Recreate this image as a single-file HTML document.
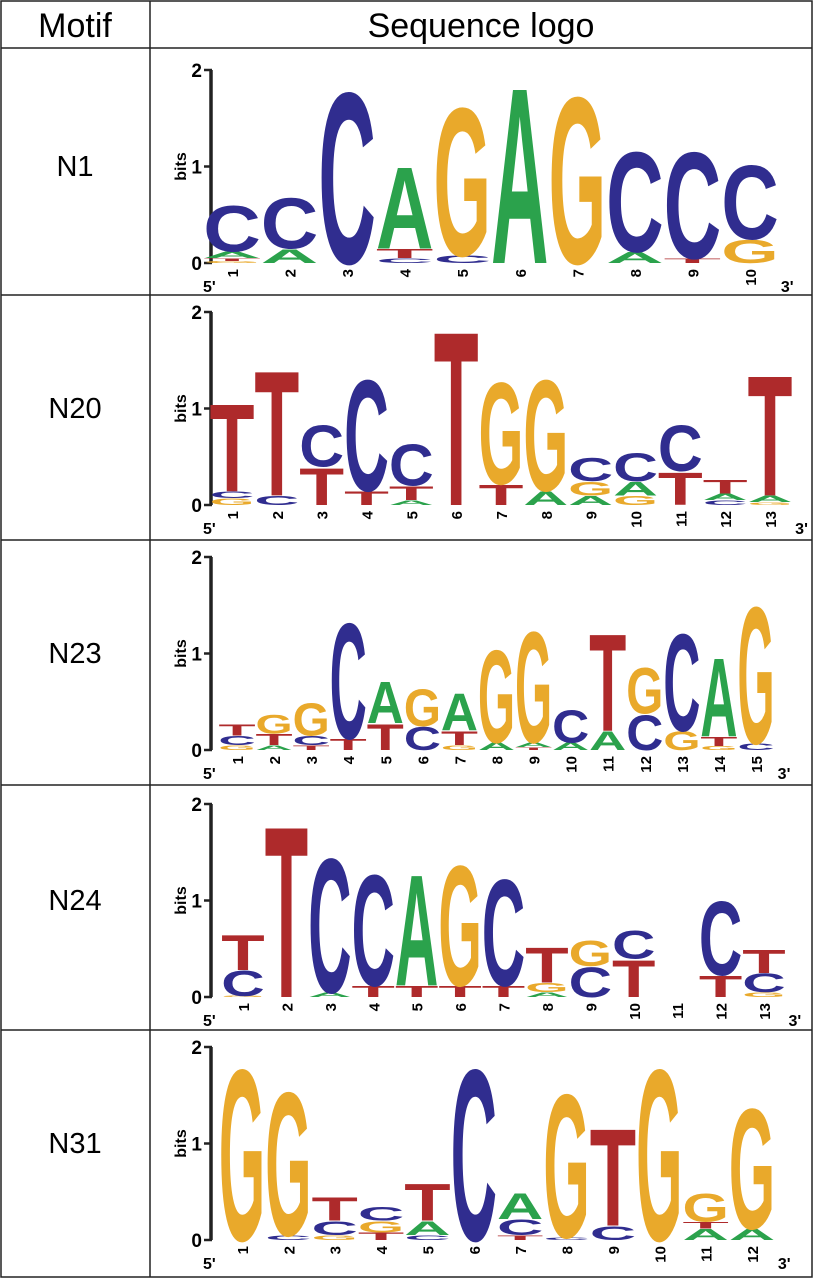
<!DOCTYPE html>
<html><head><meta charset="utf-8"><style>
html,body{margin:0;padding:0;background:#fff}
svg{display:block}
text{font-family:"Liberation Sans",sans-serif}
</style></head><body>
<svg id="fig" width="814" height="1280" viewBox="0 0 814 1280">
<g id="frame" stroke="#222" stroke-width="1.5" fill="none">
<rect x="1" y="1" width="811" height="1276"/>
<line x1="150" y1="1" x2="150" y2="1277"/>
<line x1="1" y1="48" x2="812" y2="48"/>
<line x1="1" y1="295" x2="812" y2="295"/>
<line x1="1" y1="540" x2="812" y2="540"/>
<line x1="1" y1="785" x2="812" y2="785"/>
<line x1="1" y1="1030" x2="812" y2="1030"/>
</g>
<text x="75" y="37" font-size="34" text-anchor="middle">Motif</text>
<text x="481" y="37" font-size="34" text-anchor="middle">Sequence logo</text>
<g id="logos"></g>
</svg>
<script>
const motifNames = ["N1","N20","N23","N24","N31"];
const N1 = [[["G",.02],["T",.03],["A",.07],["C",.5]],[["A",.15],["C",.55]],[["C",1.85]],[["C",.05],["T",.1],["A",.88]],[["C",.08],["G",1.6]],[["A",1.9]],[["G",1.8]],[["A",.12],["C",1.08]],[["T",.05],["C",1.15]],[["G",.25],["C",.8]]];
const N20 = [[["G",.07],["C",.07],["T",.95]],[["C",.1],["T",1.35]],[["T",.4],["C",.45]],[["T",.15],["C",1.2]],[["A",.05],["T",.15],["C",.45]],[["T",1.88]],[["T",.22],["G",1.1]],[["A",.15],["G",1.2]],[["A",.1],["G",.15],["C",.25]],[["G",.1],["A",.15],["C",.3]],[["T",.35],["C",.5]],[["C",.05],["A",.07],["T",.15]],[["G",.03],["A",.07],["T",1.3]]];
const N23 = [[["G",.05],["C",.1],["T",.12]],[["A",.05],["T",.12],["G",.2]],[["T",.05],["C",.1],["G",.35]],[["T",.12],["C",1.25]],[["T",.28],["A",.45]],[["C",.25],["G",.4]],[["G",.05],["T",.15],["A",.4]],[["A",.08],["G",1.0]],[["T",.03],["A",.05],["G",1.2]],[["A",.08],["C",.35]],[["A",.2],["T",1.05]],[["C",.38],["G",.5]],[["G",.2],["C",1.05]],[["G",.04],["T",.1],["A",.85]],[["C",.07],["G",1.48]]];
const N24 = [[["G",.01],["C",.27],["T",.38]],[["T",1.85]],[["A",.05],["C",1.45]],[["T",.12],["C",1.2]],[["T",.12],["A",1.2]],[["T",.12],["G",1.3]],[["T",.12],["C",1.15]],[["A",.05],["G",.1],["T",.38]],[["C",.32],["G",.27]],[["T",.4],["C",.3]],[],[["T",.23],["C",.8]],[["G",.05],["C",.2],["T",.25]]];
const N31 = [[["G",1.85]],[["C",.05],["G",1.55]],[["G",.05],["C",.15],["T",.25]],[["T",.08],["G",.12],["C",.15]],[["C",.05],["A",.15],["T",.4]],[["C",1.85]],[["T",.05],["C",.17],["A",.28]],[["C",.03],["G",1.55]],[["C",.15],["T",1.05]],[["G",1.85]],[["A",.12],["T",.07],["G",.3]],[["A",.12],["G",1.3]]];
const motifData = [N1,N20,N23,N24,N31];
const baselines = [263,505,750,997,1240];
const firstCol = [232,232,237,243,242];
const lastCol = [750,770,756,764,752];
const colors = {A:"#2ba24c",C:"#302d8f",G:"#e9a92b",T:"#ae2a2b"};
const pxPerBit = 96.5;
const NS = "http://www.w3.org/2000/svg";
const root = document.getElementById("logos");
function mk(tag, attrs, parent){const e=document.createElementNS(NS,tag);for(const k in attrs)e.setAttribute(k,attrs[k]);parent.appendChild(e);return e;}
motifData.forEach((cols,mi)=>{
  const base = baselines[mi];
  const g = mk("g",{},root);
  
  
  const rowMid = base - 97;
  const lab = mk("text",{x:75,y:rowMid+10,"font-size":29,"text-anchor":"middle"},g);
  lab.textContent = motifNames[mi];
  
  
  const yScale = b => base - b*pxPerBit;
  const ax = mk("g",{},g);
  
  
  mk("line",{x1:211,y1:yScale(2),x2:211,y2:base,stroke:"#222","stroke-width":3.5},ax);
  [0,1,2].forEach(t=>{
    mk("line",{x1:204,y1:yScale(t),x2:212,y2:yScale(t),stroke:"#222","stroke-width":2.5},ax);
    const tt=mk("text",{x:202,y:yScale(t)+7,"font-size":19,"font-weight":"bold","text-anchor":"end"},ax);
    tt.textContent=t;
  });
  const bt = mk("text",{x:0,y:0,"font-size":16,"font-weight":"bold","text-anchor":"middle",transform:`translate(186,${yScale(1)}) rotate(-90)`},ax);
  bt.textContent="bits";
  
  
  const n = cols.length;
  const step = (lastCol[mi]-firstCol[mi])/(n-1);
  const w = step*1.0;
  cols.forEach((stack,ci)=>{
    const cx = firstCol[mi] + ci*step;
    let cum = 0;
    stack.forEach(([L,h])=>{
      const hp = h*pxPerBit;
      const yb = yScale(cum);
      cum += h;
      if(hp < 0.8) return;
      const t = mk("text",{x:0,y:0,"font-size":100,"font-weight":"bold",fill:colors[L],textLength:w,lengthAdjust:"spacingAndGlyphs",transform:`translate(${cx-w/2},${yb}) scale(1,${hp/72.9})`},g);
      t.textContent=L;
      
      
    });
    const num = mk("text",{x:0,y:0,"font-size":15,"font-weight":"bold","text-anchor":"end",transform:`translate(${cx+6},${base+6}) rotate(-90)`},g);
    num.textContent = ci+1;
    
    
  });
  const p5 = mk("text",{x:203,y:base+29,"font-size":16,"font-weight":"bold"},g);
  p5.textContent="5'";
  
  
  const p3 = mk("text",{x:lastCol[mi]+step*0.45+5,y:base+29,"font-size":16,"font-weight":"bold"},g);
  p3.textContent="3'";
  
  
});
</script>
</body></html>
